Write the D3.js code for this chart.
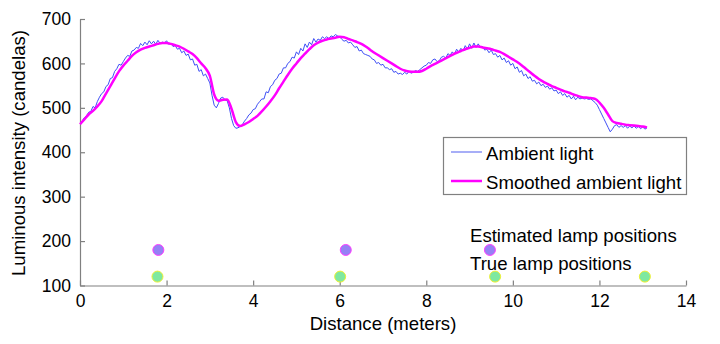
<!DOCTYPE html>
<html><head><meta charset="utf-8">
<script src="https://cdn.jsdelivr.net/npm/d3@7"></script>
<style>body{margin:0;background:#fff}svg{display:block;font-family:"Liberation Sans",Arial,sans-serif}</style>
</head><body><svg id="c" width="720" height="344"></svg>
<script>
const ambientStep = 0.05;
const ambient = [466,470,478,482,490,492,503,500,514,524,532,536,548,552,566,568,582,588,598,596,
604,612,618,616,628,630,636,634,645,640,648,642,651,644,650,643,652,645,648,646,
651,643,645,638,640,632,634,624,628,618,621,608,610,596,598,582,586,572,576,566,
556,528,506,500,510,522,524,518,516,500,476,460,454,455,458,462,470,476,484,488,
496,498,508,514,520,520,536,534,548,552,562,566,576,578,590,590,600,604,614,612,
626,620,634,628,644,636,648,642,656,648,655,652,660,656,660,656,662,660,665,662,
660,654,650,652,646,648,642,636,638,628,630,622,620,618,616,610,608,600,602,596,
598,590,590,586,588,580,582,576,578,575,580,576,582,578,580,584,582,586,590,594,
596,602,600,608,610,604,606,614,616,612,622,618,626,620,632,626,634,628,640,632,
644,634,646,636,644,636,638,630,632,624,630,620,622,614,618,608,612,602,606,596,
600,588,592,580,584,572,576,566,570,560,562,554,558,550,553,546,549,542,545,538,
540,532,536,528,532,524,528,520,526,518,524,520,522,520,521,519,520,516,512,506,
496,486,476,466,456,446,452,460,462,456,460,456,460,454,459,455,459,454,458,453,
457,452,455];
const smoothStep = 0.1;
const smoothed = [463,474,485,493,503,515,532,549,566,582,595,606,617,625,631,635,638,641,644,646,646,644,641,638,633,627,621,612,600,589,572,530,516,518,519,498,468,459,463,468,475,482,492,503,515,528,544,559,574,588,600,612,622,632,641,647,651,654,656,658,660,659,655,652,648,644,638,631,624,618,612,606,600,594,588,584,582,581,581,583,588,594,599,604,609,614,619,624,628,632,635,638,638,636,634,632,629,626,621,615,609,603,596,588,580,572,565,559,554,549,545,541,537,534,530,527,524,523,522,520,512,500,485,470,466,464,462,461,460,459,458,456];
const estimatedLamps = [1.81, 6.14, 9.47];
const estimatedLevel = 180;
const trueLamps = [1.79, 6.01, 9.59, 13.05];
const trueLevel = 120;
const xTicks = [0,2,4,6,8,10,12,14];
const yTicks = [100,200,300,400,500,600,700];

const svg = d3.select("#c");
const x = d3.scaleLinear().domain([0,14]).range([80,686]);
const y = d3.scaleLinear().domain([100,700]).range([285.5,19]);
const axisColor = "#808080";
const fs = "18.6px", tfs = "17.5px";

const gx = svg.append("g").attr("transform","translate(0,285.5)")
  .call(d3.axisBottom(x).tickValues(xTicks).tickSizeInner(-5).tickSizeOuter(0).tickFormat(d3.format("d")));
const gy = svg.append("g").attr("transform","translate(80,0)")
  .call(d3.axisLeft(y).tickValues(yTicks).tickSizeInner(-5).tickSizeOuter(0).tickPadding(9).tickFormat(d3.format("d")));
[gx,gy].forEach(g=>{
  g.select(".domain").attr("stroke",axisColor).attr("stroke-width",1.2);
  g.selectAll(".tick line").attr("stroke",axisColor).attr("stroke-width",1.2);
  g.selectAll(".tick text").attr("fill","#000").style("font-size",tfs).style("font-family","'Liberation Sans',Arial,sans-serif");
});
gx.selectAll(".tick text").attr("y",21.5).attr("dy",null);

const ambLine = d3.line().x((d,i)=>x(i*ambientStep)).y(d=>y(d));
const smLine = d3.line().x((d,i)=>x(i*smoothStep)).y(d=>y(d)).curve(d3.curveMonotoneX);
svg.append("path").datum(ambient).attr("d",ambLine).attr("fill","none").attr("stroke","#3f4ff5").attr("stroke-width",1);
svg.append("path").datum(smoothed).attr("d",smLine).attr("fill","none").attr("stroke","#ff00ff").attr("stroke-width",2.5).attr("stroke-linejoin","round");

svg.selectAll(".est").data(estimatedLamps).enter().append("circle")
  .attr("cx",d=>x(d)).attr("cy",y(estimatedLevel)).attr("r",5.5)
  .attr("fill","#9580f5").attr("stroke","#ff40ff").attr("stroke-width",1);
svg.selectAll(".tru").data(trueLamps).enter().append("circle")
  .attr("cx",d=>x(d)).attr("cy",y(trueLevel)).attr("r",5.5)
  .attr("fill","#7fe8a0").attr("stroke","#f0f030").attr("stroke-width",1);

svg.append("text").attr("x",470).attr("y",242).text("Estimated lamp positions").style("font-size",fs);
svg.append("text").attr("x",470).attr("y",270).text("True lamp positions").style("font-size",fs);

svg.append("text").attr("x",383).attr("y",330).attr("text-anchor","middle").text("Distance (meters)").style("font-size",fs);
svg.append("text").attr("transform","translate(25,153) rotate(-90)").attr("text-anchor","middle").text("Luminous intensity (candelas)").style("font-size",fs);

const lg = svg.append("g");
lg.append("rect").attr("x",443.5).attr("y",137.5).attr("width",243).attr("height",57).attr("fill","#fff").attr("stroke",axisColor).attr("stroke-width",1.2);
lg.append("line").attr("x1",451).attr("x2",482).attr("y1",152).attr("y2",152).attr("stroke","#8a93f5").attr("stroke-width",1.5);
lg.append("line").attr("x1",451).attr("x2",482).attr("y1",181).attr("y2",181).attr("stroke","#ff00ff").attr("stroke-width",2.5);
lg.append("text").attr("x",486).attr("y",160).text("Ambient light").style("font-size",fs);
lg.append("text").attr("x",486).attr("y",189).text("Smoothed ambient light").style("font-size",fs);
</script></body></html>
